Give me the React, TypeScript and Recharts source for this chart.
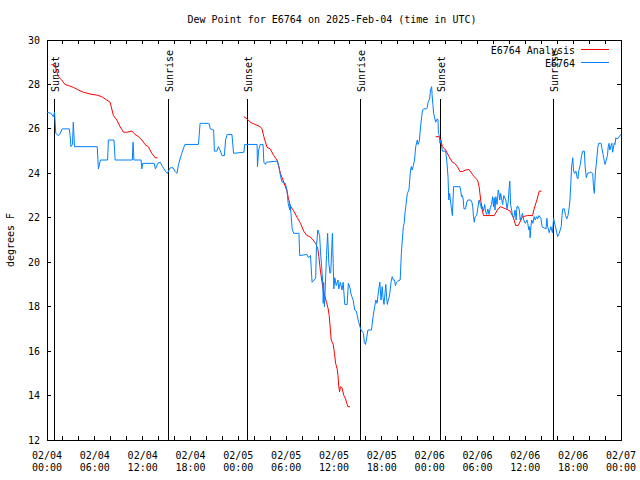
import { LineChart, Line, XAxis, YAxis, ReferenceLine, ReferenceArea } from 'recharts';

// dew point observations vs. analysis, hours since 02/04 00:00 UTC
const OBS: [number, number][] = [
  [0.0, 26.75], [0.5, 26.7], [0.8, 26.55], [0.95, 26.75], [1.1, 25.8], [1.4, 25.7], [1.6, 25.75], [1.9, 26.0],
  [2.8, 26.0], [2.9, 25.7], [3.0, 25.2], [3.2, 25.3], [3.3, 26.3], [3.45, 25.2], [6.3, 25.2], [6.45, 24.2],
  [6.7, 24.6], [7.6, 24.6], [7.7, 25.5], [8.4, 25.5], [8.55, 24.6], [10.7, 24.6], [10.8, 25.4], [10.9, 24.6],
  [11.8, 24.6], [11.9, 24.2], [12.0, 24.45], [13.45, 24.45], [13.6, 24.2], [13.9, 24.45], [14.2, 24.5], [14.5, 24.3],
  [14.9, 24.07], [15.1, 24.0], [15.45, 24.25], [15.8, 24.25], [16.1, 24.07], [16.3, 24.0], [16.5, 24.4], [16.9, 24.9],
  [17.3, 25.3], [19.0, 25.3], [19.2, 26.25], [20.3, 26.25], [20.5, 26.0], [20.9, 25.95], [21.0, 25.0], [21.3, 25.0],
  [21.5, 25.2], [21.7, 25.05], [21.95, 24.8], [22.25, 24.8], [22.4, 25.5], [22.6, 25.75], [23.2, 25.75], [23.4, 24.9],
  [24.7, 24.95], [24.8, 25.3], [26.35, 25.3], [26.4, 24.3], [26.55, 25.05], [26.75, 25.3], [27.1, 25.3], [27.2, 24.5],
  [27.4, 24.4], [27.5, 24.5], [28.9, 24.55], [29.1, 24.3], [29.3, 23.85], [29.5, 23.6], [29.9, 23.55], [30.1, 23.25],
  [30.25, 22.65], [30.45, 22.35], [30.5, 22.6], [30.6, 22.2], [30.75, 21.5], [30.95, 21.3], [31.6, 21.3], [31.7, 20.3],
  [32.6, 20.35], [32.8, 20.2], [33.05, 20.3], [33.25, 19.1], [33.5, 19.2], [33.7, 19.27], [33.8, 20.7], [33.97, 21.45],
  [34.2, 21.2], [34.3, 20.5], [34.45, 19.8], [34.6, 19.0], [34.65, 18.15], [34.7, 19.1], [34.8, 18.0], [34.93, 19.1],
  [35.06, 20.3], [35.2, 21.3], [35.35, 19.95], [35.5, 19.5], [35.6, 19.6], [35.8, 21.3], [35.9, 19.95], [35.98, 18.8],
  [36.1, 19.3], [36.28, 18.95], [36.5, 19.2], [36.6, 18.8], [36.8, 19.1], [37.0, 18.75], [37.15, 19.1], [37.35, 18.1],
  [37.65, 18.1], [37.8, 19.05], [38.0, 18.85], [38.15, 18.55], [38.4, 18.3], [38.6, 17.85], [38.8, 17.8], [39.0, 17.45],
  [39.25, 17.1], [39.4, 16.95], [39.7, 16.8], [39.8, 16.4], [39.95, 16.3], [40.1, 16.6], [40.25, 16.95], [40.7, 16.95],
  [40.9, 17.55], [41.1, 18.0], [41.25, 18.3], [41.4, 18.15], [41.5, 18.45], [41.6, 18.75], [41.75, 19.1], [41.9, 18.3],
  [42.05, 18.9], [42.15, 18.4], [42.27, 18.1], [42.4, 18.6], [42.5, 19.0], [42.6, 18.4], [42.7, 18.1], [42.8, 18.3],
  [42.9, 18.4], [43.0, 18.6], [43.15, 19.1], [43.3, 19.35], [43.45, 19.2], [43.6, 19.2], [43.7, 18.95], [43.85, 19.1],
  [44.0, 19.15], [44.3, 19.2], [44.35, 19.6], [44.45, 20.4], [44.57, 21.0], [44.7, 21.6], [44.8, 21.75], [44.9, 22.2],
  [45.0, 22.5], [45.2, 23.1], [45.4, 23.25], [45.5, 23.7], [45.6, 24.15], [45.7, 24.3], [45.8, 24.15], [45.95, 24.35],
  [46.1, 24.6], [46.25, 25.2], [46.45, 25.5], [46.55, 25.3], [46.7, 25.45], [46.9, 26.25], [47.0, 26.55], [47.1, 26.85],
  [47.3, 26.9], [47.6, 26.9], [47.7, 26.95], [47.8, 27.2], [48.0, 27.35], [48.1, 27.75], [48.25, 27.9], [48.3, 27.55],
  [48.4, 27.1], [48.5, 26.7], [48.75, 26.3], [48.95, 26.45], [49.05, 26.4], [49.1, 25.8], [49.2, 25.7], [49.3, 25.35],
  [49.4, 25.5], [49.5, 25.2], [49.6, 25.0], [50.0, 25.0], [50.14, 24.6], [50.3, 23.85], [50.4, 22.8], [50.5, 23.1],
  [50.7, 22.5], [50.85, 22.1], [51.0, 23.4], [51.8, 23.4], [51.9, 23.2], [52.0, 22.95], [52.1, 23.0], [52.2, 22.85],
  [52.3, 22.4], [52.5, 22.4], [52.65, 22.7], [52.8, 22.8], [53.15, 22.8], [53.3, 22.7], [53.4, 22.5], [53.5, 22.05],
  [53.6, 21.8], [53.7, 22.05], [53.9, 22.1], [54.0, 22.35], [54.2, 22.8], [54.4, 22.55], [54.5, 22.4], [54.6, 22.5],
  [54.75, 22.3], [54.9, 22.6], [55.0, 22.3], [55.15, 22.15], [55.3, 22.4], [55.45, 22.15], [55.6, 22.45], [55.75, 22.6],
  [55.9, 22.95], [56.0, 22.5], [56.1, 22.9], [56.2, 22.35], [56.3, 22.95], [56.45, 22.6], [56.6, 23.25], [56.7, 23.1],
  [56.8, 22.8], [56.9, 23.1], [57.05, 22.8], [57.15, 22.6], [57.3, 23.0], [57.55, 22.8], [57.7, 22.4], [57.85, 22.7],
  [57.95, 23.25], [58.05, 23.65], [58.15, 22.6], [58.3, 22.3], [58.4, 22.1], [58.55, 22.0], [58.7, 22.35], [58.85, 21.9],
  [58.95, 22.5], [59.1, 22.5], [59.25, 22.35], [59.35, 21.9], [59.5, 22.05], [59.65, 22.2], [59.8, 21.9], [60.0, 21.75],
  [60.2, 21.9], [60.3, 21.75], [60.45, 21.45], [60.55, 21.6], [60.6, 21.1], [60.7, 21.6], [60.8, 21.9], [60.95, 21.75],
  [61.1, 22.05], [61.25, 21.9], [61.4, 22.05], [61.55, 21.95], [61.7, 22.1], [61.95, 21.98], [62.1, 21.6], [62.35, 21.55],
  [62.6, 21.5], [62.7, 21.98], [62.8, 21.6], [63.0, 21.33], [63.2, 21.6], [63.4, 21.33], [63.55, 21.98], [63.7, 21.7],
  [63.85, 21.5], [64.05, 21.15], [64.25, 21.3], [64.5, 21.6], [64.6, 22.1], [64.7, 22.4], [64.9, 22.4], [65.05, 22.1],
  [65.2, 21.95], [65.35, 22.1], [65.5, 22.45], [65.6, 22.8], [65.7, 23.5], [65.8, 24.3], [65.95, 24.7], [66.05, 24.1],
  [66.2, 24.0], [66.35, 24.1], [66.5, 23.8], [66.6, 23.75], [66.7, 24.1], [66.9, 24.4], [67.05, 24.8], [67.2, 25.0],
  [67.4, 25.0], [67.5, 24.3], [67.65, 23.8], [67.8, 24.0], [68.2, 24.05], [68.45, 24.0], [68.55, 23.4], [68.65, 23.1],
  [68.8, 24.1], [68.9, 24.4], [69.1, 25.2], [69.2, 25.35], [69.5, 25.35], [69.6, 25.15], [69.75, 24.85], [69.9, 24.55],
  [70.0, 24.4], [70.15, 24.6], [70.3, 24.8], [70.4, 25.2], [70.5, 25.35], [70.6, 25.05], [70.75, 25.25], [70.85, 25.35],
  [70.95, 24.95], [71.15, 25.35], [71.25, 25.3], [71.35, 25.6], [71.5, 25.55], [71.7, 25.6], [71.85, 25.7], [72.0, 25.75],
];

// analysis comes in three separate runs
const ANALYSIS_1: [number, number][] = [
  [0.55, 28.9], [1.0, 28.85], [1.42, 28.35], [1.85, 28.2], [2.26, 28.0], [2.68, 27.95], [3.3, 27.87], [3.93, 27.75],
  [4.56, 27.65], [5.4, 27.57], [6.24, 27.52], [6.87, 27.45], [7.5, 27.3], [7.92, 27.2], [8.33, 26.6], [8.76, 26.4],
  [9.17, 26.1], [9.59, 25.85], [10.0, 25.85], [10.64, 25.9], [11.06, 25.75], [11.47, 25.65], [11.9, 25.5], [12.3, 25.3],
  [12.7, 25.2], [13.15, 24.9], [13.57, 24.7], [13.86, 24.7],
];
const ANALYSIS_2: [number, number][] = [
  [24.7, 26.55], [25.1, 26.45], [25.5, 26.3], [26.1, 26.2], [26.75, 26.1], [26.97, 26.0], [27.2, 25.65], [27.6, 25.17],
  [28.0, 25.1], [28.44, 24.8], [28.86, 24.6], [29.28, 24.0], [29.7, 23.6], [30.1, 23.2], [30.3, 22.85], [30.5, 22.55],
  [30.95, 22.3], [31.4, 22.0], [31.8, 21.75], [32.2, 21.4], [32.6, 21.2], [32.96, 21.15], [33.26, 21.05], [33.7, 20.85],
  [33.97, 20.6], [34.1, 20.25], [34.3, 19.6], [34.65, 18.75], [35.06, 18.2], [35.27, 17.9], [35.4, 17.6], [35.56, 16.9],
  [35.65, 16.5], [35.9, 16.3], [36.06, 15.9], [36.2, 15.45], [36.4, 15.2], [36.5, 14.9], [36.6, 14.4], [36.7, 14.17],
  [36.8, 14.4], [37.0, 14.35], [37.24, 14.0], [37.45, 13.85], [37.65, 13.6], [37.74, 13.5], [38.0, 13.5],
];
const ANALYSIS_3: [number, number][] = [
  [48.75, 25.65], [49.17, 25.65], [49.4, 25.5], [49.6, 25.2], [50.0, 25.05], [50.43, 24.75], [50.85, 24.5], [51.14, 24.45],
  [51.48, 24.3], [51.8, 24.08], [52.1, 24.08], [52.5, 24.15], [52.94, 24.17], [53.37, 23.95], [53.57, 23.85], [54.0, 23.7],
  [54.2, 23.4], [54.4, 22.8], [54.6, 22.35], [54.75, 22.1], [55.45, 22.1], [56.1, 22.1], [56.5, 22.35], [56.85, 22.5],
  [57.55, 22.4], [58.1, 22.3], [58.5, 22.0], [58.8, 21.65], [59.1, 21.65], [59.65, 22.05], [60.3, 22.1], [60.9, 22.1],
  [61.1, 22.4], [61.45, 22.8], [61.74, 23.2], [62.04, 23.2],
];

const SUN_EVENTS = [
  { t: 1.0, label: 'Sunset' },
  { t: 15.25, label: 'Sunrise' },
  { t: 25.17, label: 'Sunset' },
  { t: 39.33, label: 'Sunrise' },
  { t: 49.3, label: 'Sunset' },
  { t: 63.5, label: 'Sunrise' },
];

const X_TICKS = [0, 2, 4, 6, 8, 10, 12, 14, 16, 18, 20, 22, 24, 26, 28, 30, 32, 34, 36, 38, 40, 42, 44, 46, 48, 50, 52, 54, 56, 58, 60, 62, 64, 66, 68, 70, 72];
const X_LABELS: Record<number, [string, string]> = {
  0: ['02/04', '00:00'], 6: ['02/04', '06:00'], 12: ['02/04', '12:00'], 18: ['02/04', '18:00'],
  24: ['02/05', '00:00'], 30: ['02/05', '06:00'], 36: ['02/05', '12:00'], 42: ['02/05', '18:00'],
  48: ['02/06', '00:00'], 54: ['02/06', '06:00'], 60: ['02/06', '12:00'], 66: ['02/06', '18:00'],
  72: ['02/07', '00:00'],
};
const Y_TICKS = [12, 14, 16, 18, 20, 22, 24, 26, 28, 30];

const W = 640;
const H = 480;
const MARGIN = { top: 40, right: 19, bottom: 0, left: 0 };
const Y_AXIS_W = 47;
const X_AXIS_H = 40;
const PLOT_W = W - MARGIN.right - MARGIN.left - Y_AXIS_W;
const PLOT_H = H - MARGIN.top - X_AXIS_H;
const FONT = '"DejaVu Sans Mono", "Liberation Mono", monospace';
const RED = '#ff0000';
const BLUE = '#0080ff';

const toRows = (pts: [number, number][]) => pts.map(([t, v]) => ({ t, v }));

function XTick({ x, y, payload }: any) {
  const label = X_LABELS[payload.value];
  return (
    <g>
      <line x1={x} y1={y} x2={x} y2={y - 4} stroke="#000" shapeRendering="crispEdges" />
      <line x1={x} y1={y - PLOT_H} x2={x} y2={y - PLOT_H + 4} stroke="#000" shapeRendering="crispEdges" />
      {label && (
        <text x={x} y={y + 19} textAnchor="middle" fontSize={10} fontFamily={FONT} fill="#000">
          <tspan x={x}>{label[0]}</tspan>
          <tspan x={x} dy={12}>{label[1]}</tspan>
        </text>
      )}
    </g>
  );
}

function YTick({ x, y, payload }: any) {
  return (
    <g>
      <line x1={x} y1={y} x2={x + 4} y2={y} stroke="#000" shapeRendering="crispEdges" />
      <line x1={x + PLOT_W} y1={y} x2={x + PLOT_W - 4} y2={y} stroke="#000" shapeRendering="crispEdges" />
      <text x={x - 7} y={y + 3.5} textAnchor="end" fontSize={10} fontFamily={FONT} fill="#000">
        {payload.value}
      </text>
    </g>
  );
}

function sunShape(label: string) {
  return (p: any) => {
    const top = Math.min(p.y1, p.y2);
    const bottom = Math.max(p.y1, p.y2);
    return (
      <g>
        <line x1={p.x1} y1={top + 59} x2={p.x1} y2={bottom} stroke="#000" strokeWidth={1} shapeRendering="crispEdges" />
        <text
          x={p.x1 + 1}
          y={top + 52}
          transform={`rotate(-90 ${p.x1 + 1} ${top + 52})`}
          dominantBaseline="central"
          fontSize={10}
          fontFamily={FONT}
          fill="#000"
        >
          {label}
        </text>
      </g>
    );
  };
}

export default function App() {
  return (
    <div style={{ position: 'absolute', left: 0, top: 0, width: W, height: H, background: '#fff' }}>
      <LineChart width={W} height={H} margin={MARGIN}>
        <XAxis
          dataKey="t"
          type="number"
          domain={[0, 72]}
          ticks={X_TICKS}
          interval={0}
          tick={<XTick />}
          tickLine={false}
          axisLine={false}
          tickSize={0}
          tickMargin={0}
          height={X_AXIS_H}
          allowDataOverflow
        />
        <YAxis
          type="number"
          domain={[12, 30]}
          ticks={Y_TICKS}
          interval={0}
          tick={<YTick />}
          tickLine={false}
          axisLine={false}
          tickSize={0}
          tickMargin={0}
          width={Y_AXIS_W}
          allowDataOverflow
        />
        <ReferenceArea x1={0} x2={72} y1={12} y2={30} fill="none" stroke="#000" strokeWidth={1} shapeRendering="crispEdges" />
        {SUN_EVENTS.map((s, i) => (
          <ReferenceLine key={i} x={s.t} shape={sunShape(s.label)} />
        ))}
        <Line data={toRows(ANALYSIS_1)} dataKey="v" stroke={RED} strokeWidth={1} dot={false} isAnimationActive={false} />
        <Line data={toRows(ANALYSIS_2)} dataKey="v" stroke={RED} strokeWidth={1} dot={false} isAnimationActive={false} />
        <Line data={toRows(ANALYSIS_3)} dataKey="v" stroke={RED} strokeWidth={1} dot={false} isAnimationActive={false} />
        <Line data={toRows(OBS)} dataKey="v" stroke={BLUE} strokeWidth={1} dot={false} isAnimationActive={false} />
      </LineChart>
      <svg width={W} height={H} style={{ position: 'absolute', left: 0, top: 0, pointerEvents: 'none' }}>
        <text x={332} y={23} textAnchor="middle" fontSize={10} fontFamily={FONT} fill="#000">
          Dew Point for E6764 on 2025-Feb-04 (time in UTC)
        </text>
        <text x={14} y={240} transform="rotate(-90 14 240)" textAnchor="middle" fontSize={10} fontFamily={FONT} fill="#000">
          degrees F
        </text>
        <text x={575} y={53.5} textAnchor="end" fontSize={10} fontFamily={FONT} fill="#000">E6764 Analysis</text>
        <line x1={581} y1={49.5} x2={609} y2={49.5} stroke={RED} />
        <text x={575} y={66.5} textAnchor="end" fontSize={10} fontFamily={FONT} fill="#000">E6764</text>
        <line x1={581} y1={62.5} x2={609} y2={62.5} stroke={BLUE} />
      </svg>
    </div>
  );
}
